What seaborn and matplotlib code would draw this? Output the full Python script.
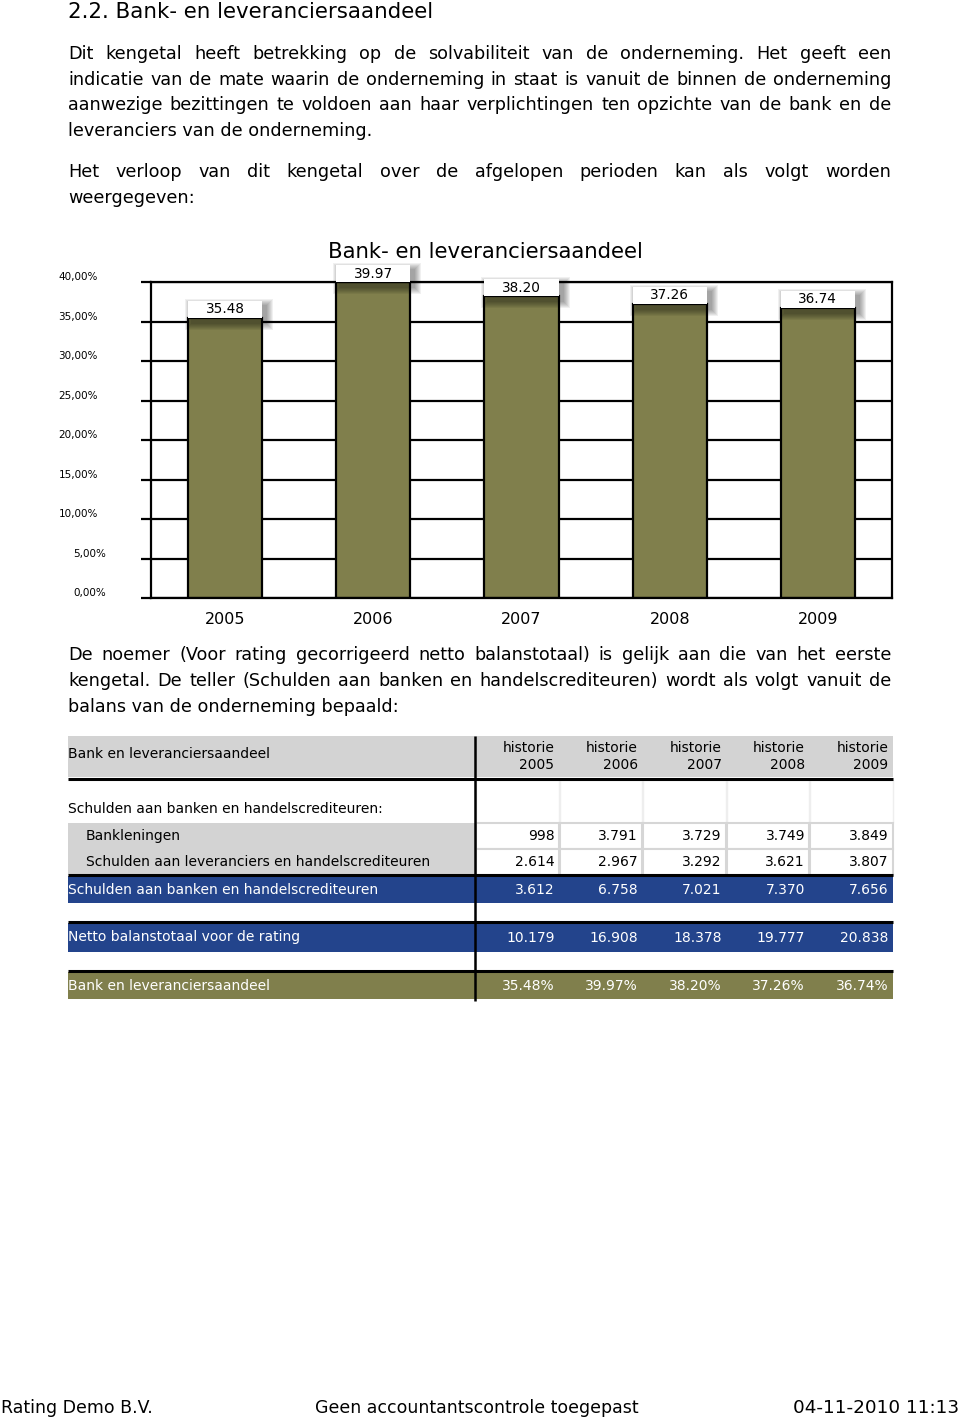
import matplotlib
matplotlib.use("Agg")
import matplotlib.pyplot as plt
import seaborn as sns
import pandas as pd
from matplotlib.patches import Rectangle

# chart / table data
years = ["2005", "2006", "2007", "2008", "2009"]
share = [35.48, 39.97, 38.20, 37.26, 36.74]
y_ticks = [0, 5, 10, 15, 20, 25, 30, 35, 40]
bank_loans = [998, 3791, 3729, 3749, 3849]
suppliers = [2614, 2967, 3292, 3621, 3807]
total_debt = [3612, 6758, 7021, 7370, 7656]
net_balance = [10179, 16908, 18378, 19777, 20838]

heading = "2.2. Bank- en leveranciersaandeel"
chart_title = "Bank- en leveranciersaandeel"
para1 = ["Dit kengetal heeft betrekking op de solvabiliteit van de onderneming. Het geeft een",
         "indicatie van de mate waarin de onderneming in staat is vanuit de binnen de onderneming",
         "aanwezige bezittingen te voldoen aan haar verplichtingen ten opzichte van de bank en de",
         "leveranciers van de onderneming."]
para2 = ["Het verloop van dit kengetal over de afgelopen perioden kan als volgt worden",
         "weergegeven:"]
para3 = ["De noemer (Voor rating gecorrigeerd netto balanstotaal) is gelijk aan die van het eerste",
         "kengetal. De teller (Schulden aan banken en handelscrediteuren) wordt als volgt vanuit de",
         "balans van de onderneming bepaald:"]
footer = ["Rating Demo B.V.", "Geen accountantscontrole toegepast", "04-11-2010 11:13"]

OLIVE = "#807f4c"
BLUE = "#23448c"
GREY = "#d3d3d3"

sns.set_theme(style="white")
plt.rcParams["font.family"] = ["DejaVu Sans"]
plt.rcParams["text.color"] = "black"
plt.rcParams["xtick.color"] = "black"

fig = plt.figure(figsize=(9.6, 14.19), dpi=100, facecolor="white")
page = fig.add_axes([0, 0, 1, 1])
page.set_xlim(0, 960)
page.set_ylim(1419, 0)
page.axis("off")
renderer = fig.canvas.get_renderer()

# body font size chosen so the last line of paragraph 1 is as wide as in the page (303 px)
probe = page.text(0, 0, para1[-1], fontsize=10)
BODY = 10 * 303 / probe.get_window_extent(renderer).width
probe.remove()


def justified(lines, y0, step, size, x0=68, x1=891):
    for n, line in enumerate(lines):
        y = y0 + n * step
        if n == len(lines) - 1:
            page.text(x0, y, line, fontsize=size, va="center", ha="left")
            continue
        words = line.split()
        texts = [page.text(0, y, w, fontsize=size, va="center", ha="left") for w in words]
        widths = [t.get_window_extent(renderer).width for t in texts]
        gap = (x1 - x0 - sum(widths)) / (len(words) - 1)
        x = x0
        for t, w in zip(texts, widths):
            t.set_x(x)
            x += w + gap


page.text(68, 12, heading, fontsize=15.4, va="center", ha="left")
justified(para1, 54, 25.7, BODY)
justified(para2, 172, 26, BODY)
justified(para3, 655, 26, BODY)

# ---- bar chart ----
ax = fig.add_axes([151 / 960, 1 - 598 / 1419, 741 / 960, 316 / 1419])
df = pd.DataFrame({"jaar": years, "aandeel": share})
sns.barplot(data=df, x="jaar", y="aandeel", color=OLIVE, saturation=1, width=0.5,
            edgecolor="black", linewidth=1.6, ax=ax, zorder=2)
ax.set_xlim(-0.5, 4.5)
ax.set_ylim(0, 40)
ax.set_yticks(y_ticks)
ax.yaxis.grid(True, color="black", linewidth=1.6)
ax.set_axisbelow(True)
ax.set_xlabel("")
ax.set_ylabel("")
ax.tick_params(axis="y", left=True, length=7.2, width=1.6, color="black", labelleft=False)
ax.tick_params(axis="x", length=0, pad=10, labelsize=11.5, labelcolor="black")
for s in ["left", "right", "bottom", "top"]:
    ax.spines[s].set_color("black")
    ax.spines[s].set_linewidth(1.6)

for v in y_ticks:
    lab = f"{v:.2f}".replace(".", ",") + "%"
    xpos = -0.0715 if v >= 10 else -0.0607
    ax.text(xpos, v + 0.6, lab, transform=ax.get_yaxis_transform(), fontsize=7.5,
            ha="right", va="center")

px_x = 5 / 741
px_y = 40 / 316
box_h = 17 * px_y
for i, v in enumerate(share):
    x0 = i - 0.25
    # soft shadow
    for r in range(7, 0, -1):
        ax.add_patch(Rectangle((x0 + 4 * px_x - r * px_x, v - 5 * px_y - r * px_y),
                               0.5 + 2 * r * px_x, box_h + 2 * r * px_y,
                               facecolor="black", edgecolor="none", alpha=0.06,
                               zorder=3, clip_on=False))
    ax.add_patch(Rectangle((x0, v), 0.5, box_h, facecolor="white", edgecolor="none",
                           zorder=4, clip_on=False))
    ax.text(i, v + box_h / 2, f"{v:.2f}", fontsize=9.8, ha="center", va="center",
            zorder=5, clip_on=False)

page.text(485, 252, chart_title, fontsize=15.3, ha="center", va="center")

# ---- table ----
col_edges = [475, 558.5, 642, 725.5, 809, 892.5]
fmt = lambda n: f"{n:,}".replace(",", ".")
TS = 10

page.add_patch(Rectangle((68, 736), 892.5 - 68, 41, facecolor=GREY, edgecolor="none"))
page.text(68, 754, "Bank en leveranciersaandeel", fontsize=TS, va="center")
for j, yr in enumerate(years):
    xr = col_edges[j + 1] - 4
    page.text(xr, 748, "historie", fontsize=TS, ha="right", va="center")
    page.text(xr, 765, yr, fontsize=TS, ha="right", va="center")

# light cell grid in the detail rows
for j in range(5):
    page.add_patch(Rectangle((col_edges[j] + 1, 780), col_edges[j + 1] - col_edges[j] - 1, 43,
                             facecolor="white", edgecolor="#eeeeee", linewidth=1))
    for r, vals in enumerate([bank_loans, suppliers]):
        page.add_patch(Rectangle((col_edges[j] + 1, 823 + r * 26), col_edges[j + 1] - col_edges[j] - 1, 26,
                                 facecolor="white", edgecolor="#d6d6d6", linewidth=1.5))
        page.text(col_edges[j + 1] - 4, 836 + r * 26, fmt(vals[j]), fontsize=TS, ha="right", va="center")
page.add_patch(Rectangle((68, 823), 475 - 68, 52, facecolor=GREY, edgecolor="none"))
page.text(68, 809, "Schulden aan banken en handelscrediteuren:", fontsize=TS, va="center")
page.text(86, 836, "Bankleningen", fontsize=TS, va="center")
page.text(86, 862, "Schulden aan leveranciers en handelscrediteuren", fontsize=TS, va="center")

rows = [(876, 27, BLUE, "Schulden aan banken en handelscrediteuren", [fmt(n) for n in total_debt]),
        (923, 29, BLUE, "Netto balanstotaal voor de rating", [fmt(n) for n in net_balance]),
        (972, 27, OLIVE, "Bank en leveranciersaandeel", [f"{s:.2f}%" for s in share])]
for top, h, col, label, vals in rows:
    page.add_patch(Rectangle((68, top), 892.5 - 68, h, facecolor=col, edgecolor="none"))
    page.text(68, top + h / 2, label, fontsize=TS, va="center", color="white")
    for j, s in enumerate(vals):
        page.text(col_edges[j + 1] - 4, top + h / 2, s, fontsize=TS, ha="right", va="center",
                  color="white")

for yl in [779, 875, 922, 971]:
    page.plot([68, 892.5], [yl, yl], color="black", linewidth=2.2, solid_capstyle="butt")
page.plot([475, 475], [736, 1001], color="black", linewidth=1.8, solid_capstyle="butt")

# ---- footer ----
page.text(1, 1408, footer[0], fontsize=12.5, ha="left", va="center")
page.text(315, 1408, footer[1], fontsize=12.5, ha="left", va="center")
page.text(959, 1408, footer[2], fontsize=13.2, ha="right", va="center")

fig.savefig("out.png", dpi=100, facecolor="white")
plt.close(fig)
